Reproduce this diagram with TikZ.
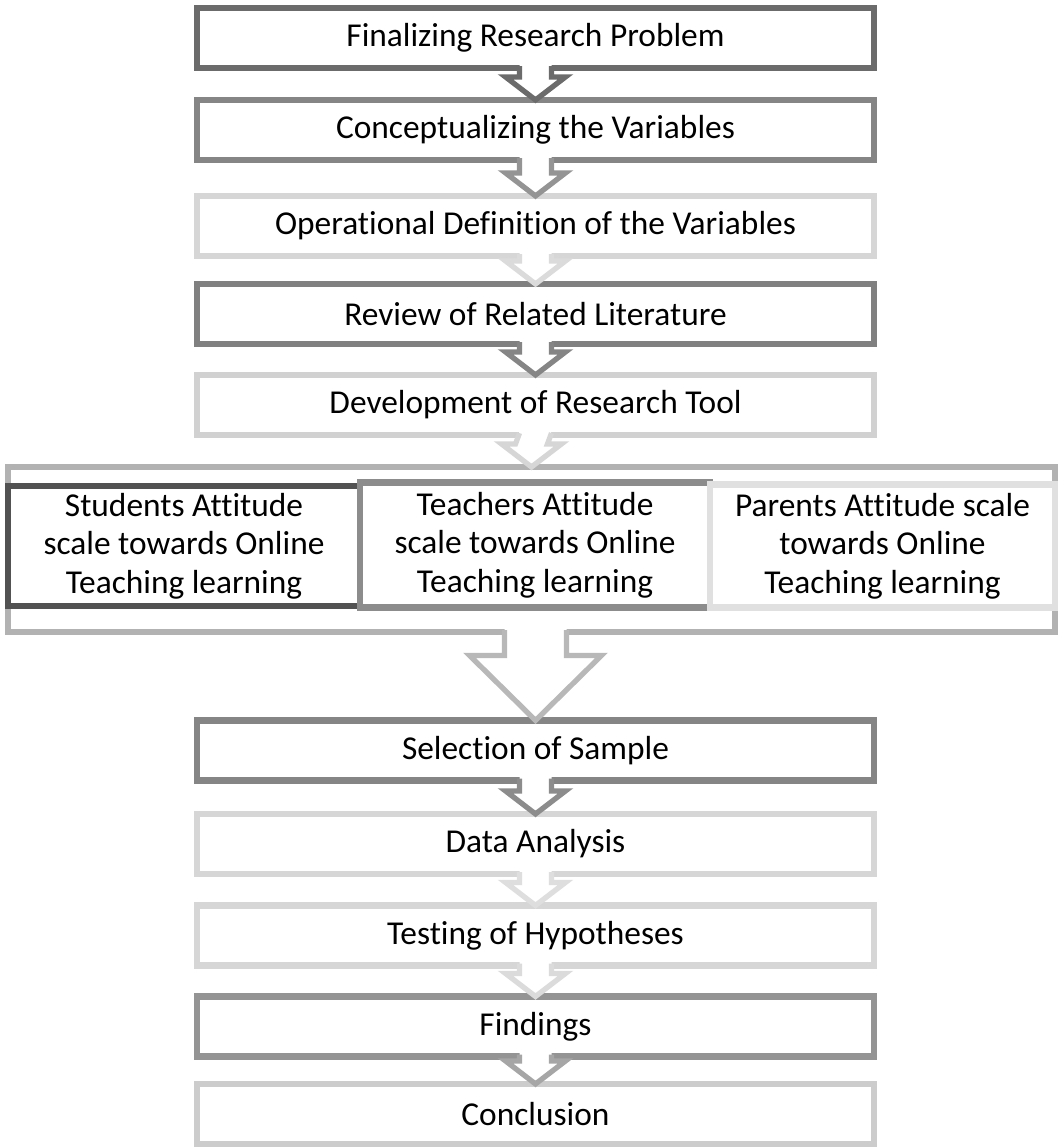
\documentclass[tikz,border=0pt]{standalone}
\usepackage{fontspec}
\setmainfont{Carlito}[Ligatures=NoCommon]
\usetikzlibrary{calc}

\begin{document}
\begin{tikzpicture}[x=0.02cm,y=-0.02cm,
        box/.style={draw, line width=3.5pt, fill=white, inner sep=0pt,
                    minimum width=13.54cm, minimum height=1.2cm,
                    font=\fontsize{19}{21.3}\selectfont},
        scalebox/.style={box, align=center, minimum height=2.4cm, minimum width=7cm,
                    font=\fontsize{19}{22}\selectfont},
        arrowline/.style={line width=3pt, line join=miter}]
        \useasboundingbox (0,0) rectangle (1060,1147);

        % steps before the tools
        \node [box, draw=black!58] (fin) at (535.5,38) {Finalizing Research Problem};
        \node [box, draw=black!48] (concept) at (535.5,130) {Conceptualizing the Variables};
        \node [box, draw=black!16] (oper) at (535.5,226) {Operational Definition of the Variables};
        \node [box, draw=black!50] (review) at (535.5,314) {Review of Related Literature};
        \node [box, draw=black!18] (tool) at (535.5,405) {Development of Research Tool};

        % the three attitude scales
        \node [box, draw=black!30, minimum width=20.94cm, minimum height=3.3cm] (outer) at (531.5,549.5) {};
        \node [scalebox, draw=black!68, minimum width=7.04cm] (stud) at (184,546)
              {Students Attitude\\scale towards Online\\Teaching learning};
        \node [scalebox, draw=black!45, minimum height=2.5cm] (teach) at (535,545)
              {Teachers Attitude\\scale towards Online\\Teaching learning};
        \node [scalebox, draw=black!12, minimum width=6.9cm, minimum height=2.46cm] (par) at (882.5,546)
              {Parents Attitude scale\\towards Online\\Teaching learning};

        % steps after the tools
        \node [box, draw=black!48] (sample) at (535.5,750.5) {Selection of Sample};
        \node [box, draw=black!16] (analysis) at (535.5,844) {Data Analysis};
        \node [box, draw=black!16] (testing) at (535.5,935.5) {Testing of Hypotheses};
        \node [box, draw=black!42] (findings) at (535.5,1026.5) {Findings};
        \node [box, draw=black!20] (concl) at (535.5,1114) {Conclusion};

        % block arrows
        \foreach \a/\b/\c in {fin/concept/black!58, concept/oper/black!42, oper/review/black!14,
                              review/tool/black!48, tool/outer/black!16, sample/analysis/black!45,
                              analysis/testing/black!13, testing/findings/black!14, findings/concl/black!35} {
            \fill[white] ($(\a.south)+(-16,-7)$) -- ($(\b.north)+(-16,-20)$) -- ($(\b.north)+(-30,-20)$)
                -- ($(\b.north)+(0,3)$) -- ($(\b.north)+(30,-20)$) -- ($(\b.north)+(16,-20)$)
                -- ($(\a.south)+(16,-7)$) -- cycle;
            \draw[arrowline, draw=\c] ($(\a.south)+(-16,-5)$) -- ($(\b.north)+(-16,-20)$) -- ($(\b.north)+(-30,-20)$)
                -- ($(\b.north)+(0,3)$) -- ($(\b.north)+(30,-20)$) -- ($(\b.north)+(16,-20)$)
                -- ($(\a.south)+(16,-5)$);
        }

        % big arrow
        \coordinate (bigtop) at (sample.north |- outer.south);
        \fill[white] ($(bigtop)+(-31,-7)$) -- ($(sample.north)+(-31,-62)$) -- ($(sample.north)+(-66,-62)$)
            -- ($(sample.north)+(0,3)$) -- ($(sample.north)+(66,-62)$) -- ($(sample.north)+(31,-62)$)
            -- ($(bigtop)+(31,-7)$) -- cycle;
        \draw[arrowline, draw=black!28] ($(bigtop)+(-31,-5)$) -- ($(sample.north)+(-31,-62)$) -- ($(sample.north)+(-66,-62)$)
            -- ($(sample.north)+(0,3)$) -- ($(sample.north)+(66,-62)$) -- ($(sample.north)+(31,-62)$)
            -- ($(bigtop)+(31,-5)$);
\end{tikzpicture}
\end{document}
